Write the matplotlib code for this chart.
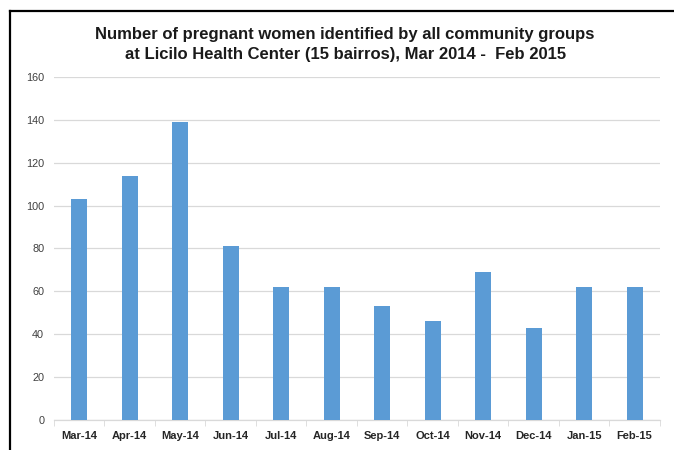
import matplotlib
matplotlib.use("Agg")
import matplotlib.pyplot as plt
from matplotlib.lines import Line2D
import numpy as np

months = ["Mar-14", "Apr-14", "May-14", "Jun-14", "Jul-14", "Aug-14",
          "Sep-14", "Oct-14", "Nov-14", "Dec-14", "Jan-15", "Feb-15"]
counts = [103, 114, 139, 81, 62, 62, 53, 46, 69, 43, 62, 62]
yticks = [0, 20, 40, 60, 80, 100, 120, 140, 160]

plt.rcParams['font.family'] = ['Liberation Sans', 'DejaVu Sans']

fig = plt.figure(figsize=(6.74, 4.5), dpi=100)
ax = fig.add_axes([0.080, 0.0667, 0.899, 0.7623])

x = np.arange(len(months))
ax.bar(x, counts, width=0.32, color="#5b9bd5", zorder=3)

ax.set_xlim(-0.5, len(months) - 0.5)
ax.set_ylim(0, 160)
ax.set_yticks(yticks)
ax.set_yticklabels([str(v) for v in yticks], fontsize=7.8, color="#404040")
ax.set_xticks(x)
ax.set_xticklabels(months, fontsize=8, fontweight="bold", color="#262626")
ax.set_xticks(np.arange(-0.5, len(months), 1.0), minor=True)
ax.tick_params(axis="x", which="major", length=0, pad=8)
ax.tick_params(axis="x", which="minor", length=4, color="#d9d9d9")
ax.tick_params(axis="y", length=0, pad=7)

ax.yaxis.grid(True, color="#d9d9d9", linewidth=0.9, zorder=0)
for s in ["top", "right", "left"]:
    ax.spines[s].set_visible(False)
ax.spines["bottom"].set_color("#d9d9d9")
ax.spines["bottom"].set_linewidth(0.9)

fig.text(0.512, 0.901,
         "Number of pregnant women identified by all community groups\n"
         "at Licilo Health Center (15 bairros), Mar 2014 -  Feb 2015",
         ha="center", va="center", fontsize=12, fontweight="bold",
         color="#1a1a1a", linespacing=1.4)

fig.add_artist(Line2D([0.0148, 0.0148], [0.0, 0.976], transform=fig.transFigure,
                      color="black", linewidth=1.6))
fig.add_artist(Line2D([0.0148, 1.0], [0.976, 0.976], transform=fig.transFigure,
                      color="black", linewidth=1.6))

fig.savefig("out.png", dpi=100)
